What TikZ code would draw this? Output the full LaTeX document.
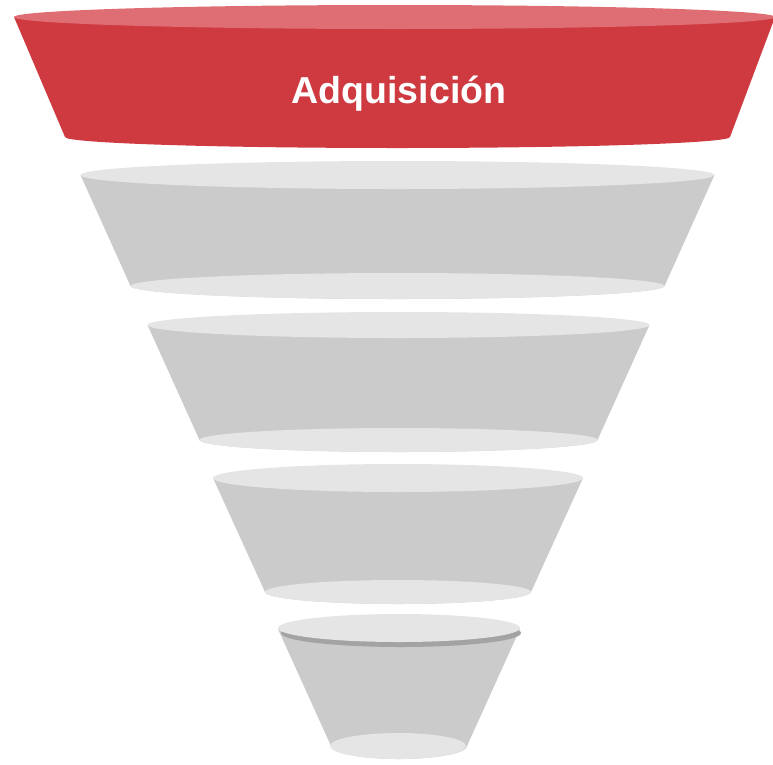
\documentclass[tikz,border=0pt]{standalone}
\usepackage{fontspec}
\setmainfont{Liberation Sans}
\definecolor{redside}{HTML}{CF3A40}
\definecolor{redtop}{HTML}{DE6E73}
\definecolor{grayside}{HTML}{CBCBCB}
\definecolor{graylight}{HTML}{E5E5E5}
\definecolor{grayrim}{HTML}{A3A3A3}
% #1 cx, #2 top y, #3 top rx, #4 top ry, #5 bottom y, #6 bottom rx, #7 bottom ry, #8 side colour
\newcommand\funnelSide[8]{%
  \fill[#8] ({#1-#3},{-#2}) -- ({#1-#6},{-#5})
    arc[start angle=180, end angle=360, x radius=#6, y radius=#7]
    -- ({#1+#3},{-#2}) -- cycle;}
\begin{document}
\begin{tikzpicture}[x=1pt,y=1pt,
  toprim/.style={fill=redtop},
  grayface/.style={fill=graylight},
  label/.style={text=white, font=\bfseries\fontsize{37.5}{40}\selectfont, inner sep=0pt}]
\useasboundingbox (0,0) rectangle (773,-764);
\clip (0,0) rectangle (773,-764);
% segment 1 (red)
\fill[redside] (14,-17) -- (65,-137)
    arc[start angle=180, end angle=360, x radius=332.5, y radius=11]
    -- (775,-17) -- cycle;
\fill[toprim] (394.5,-17) ellipse[x radius=380.5, y radius=12];
\node[label, anchor=base] (s1) at (399,-103) {Adquisición};
% segment 2
\funnelSide{397.5}{175}{317}{14}{286}{267}{13}{grayside}
\fill[grayface] (397.5,-175) ellipse[x radius=317, y radius=14];
\fill[grayface] (397.5,-286) ellipse[x radius=267, y radius=13];
% segment 3
\funnelSide{398.5}{325}{251}{13}{440}{199}{12}{grayside}
\fill[grayface] (398.5,-325) ellipse[x radius=251, y radius=13];
\fill[grayface] (398.5,-440) ellipse[x radius=199, y radius=12];
% segment 4
\funnelSide{398}{478}{185}{14}{592}{133}{12}{grayside}
\fill[grayface] (398,-478) ellipse[x radius=185, y radius=14];
\fill[grayface] (398,-592) ellipse[x radius=133, y radius=12];
% segment 5
\funnelSide{399}{629}{121}{14}{746}{68}{13}{grayside}
\fill[grayrim] (401,-633) ellipse[x radius=120, y radius=14];
\fill[grayface] (399,-628) ellipse[x radius=121, y radius=14];
\fill[grayface] (398,-746) ellipse[x radius=68, y radius=13];
\end{tikzpicture}
\end{document}
